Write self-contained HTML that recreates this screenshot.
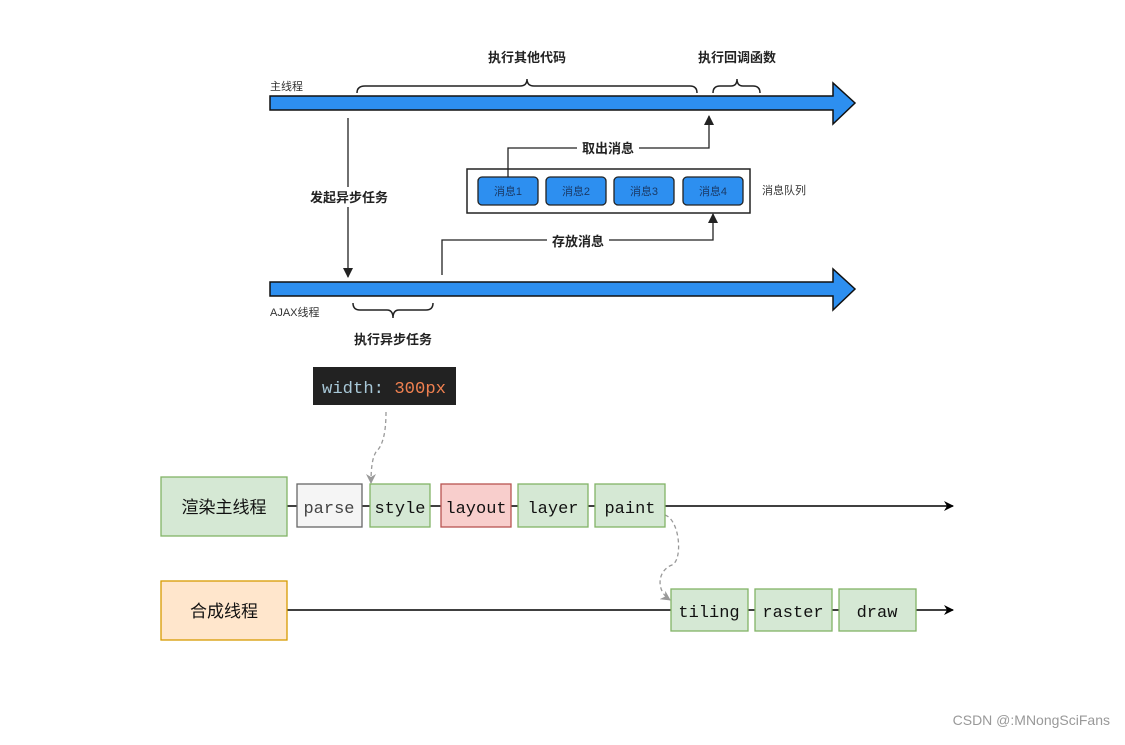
<!DOCTYPE html>
<html><head><meta charset="utf-8"><style>
body{margin:0;background:#fff}
svg text{font-family:"Liberation Sans","Noto Sans CJK SC",sans-serif}
svg text.m, svg .m text{font-family:"Liberation Mono","DejaVu Sans Mono",monospace}
</style></head><body>
<svg width="1125" height="740" viewBox="0 0 1125 740" xmlns="http://www.w3.org/2000/svg">
<defs>
<marker id="a" markerWidth="10" markerHeight="10" refX="9" refY="5" orient="auto" markerUnits="userSpaceOnUse"><path d="M0,0 L10,5 L0,10 L3,5z" fill="#000"/></marker>
<marker id="g" markerWidth="10" markerHeight="10" refX="9" refY="5" orient="auto" markerUnits="userSpaceOnUse"><path d="M0,0 L10,5 L0,10 L3,5z" fill="#999"/></marker>
<marker id="t" markerWidth="10" markerHeight="12" refX="9" refY="5" orient="auto" markerUnits="userSpaceOnUse"><path d="M0,0 L10,5 L0,10z" fill="#222"/></marker>
</defs>
<path d="M270,96 L833,96 L833,83 L855,103 L833,124 L833,110 L270,110Z" fill="#2d8ff0" stroke="#111" stroke-width="1.5"/>
<path d="M270,282 L833,282 L833,269 L855,289 L833,310 L833,296 L270,296Z" fill="#2d8ff0" stroke="#111" stroke-width="1.5"/>
<text x="270" y="90" font-size="11" fill="#333">主线程</text>
<text x="270" y="316" font-size="11" fill="#333">AJAX线程</text>
<path d="M357,93 Q357,86 365,86 L520,86 Q527,86 527,79 Q527,86 534,86 L690,86 Q697,86 697,93" fill="none" stroke="#222" stroke-width="1.5"/>
<path d="M713,93 Q713,86 720,86 L731,86 Q737,86 737,79 Q737,86 743,86 L753,86 Q760,86 760,93" fill="none" stroke="#222" stroke-width="1.5"/>
<path d="M353,303 Q353,310 360,310 L387,310 Q393,310 393,318 Q393,310 399,310 L426,310 Q433,310 433,303" fill="none" stroke="#222" stroke-width="1.5"/>
<text x="527" y="62" font-size="13" font-weight="bold" text-anchor="middle" fill="#222">执行其他代码</text>
<text x="737" y="62" font-size="13" font-weight="bold" text-anchor="middle" fill="#222">执行回调函数</text>
<text x="393" y="344" font-size="13" font-weight="bold" text-anchor="middle" fill="#222">执行异步任务</text>
<line x1="348" y1="118" x2="348" y2="277" stroke="#222" stroke-width="1.3" marker-end="url(#t)"/>
<rect x="303" y="187" width="90" height="20" fill="#fff"/>
<text x="349" y="202" font-size="13" font-weight="bold" text-anchor="middle" fill="#222">发起异步任务</text>
<rect x="467" y="169" width="283" height="44" fill="#fff" stroke="#222" stroke-width="1.5"/>
<g fill="#2d8ff0" stroke="#222" stroke-width="1.3">
<rect x="478" y="177" width="60" height="28" rx="4"/><rect x="546" y="177" width="60" height="28" rx="4"/><rect x="614" y="177" width="60" height="28" rx="4"/><rect x="683" y="177" width="60" height="28" rx="4"/></g>
<g font-size="11" fill="#1a3a66" text-anchor="middle"><text x="508" y="195">消息1</text><text x="576" y="195">消息2</text><text x="644" y="195">消息3</text><text x="713" y="195">消息4</text></g>
<text x="762" y="194" font-size="11" fill="#333">消息队列</text>
<path d="M508,177 L508,148 L709,148 L709,116" fill="none" stroke="#222" stroke-width="1.3" marker-end="url(#t)"/>
<path d="M442,275 L442,240 L713,240 L713,214" fill="none" stroke="#222" stroke-width="1.3" marker-end="url(#t)"/>
<rect x="577" y="139" width="62" height="18" fill="#fff"/>
<text x="608" y="153" font-size="13" font-weight="bold" text-anchor="middle" fill="#222">取出消息</text>
<rect x="547" y="232" width="62" height="18" fill="#fff"/>
<text x="578" y="246" font-size="13" font-weight="bold" text-anchor="middle" fill="#222">存放消息</text>
<rect x="313" y="367" width="143" height="38" fill="#222"/>
<text x="322" y="393" font-size="17" class="m" fill="#a8c8d8" textLength="124" lengthAdjust="spacingAndGlyphs">width: <tspan fill="#f08050">300px</tspan></text>
<path d="M386,412 C386,440 380,448 376,452 C372,458 371,470 371,483" fill="none" stroke="#999" stroke-width="1.3" stroke-dasharray="4,3" marker-end="url(#g)"/>
<path d="M665,515 C680,520 683,560 672,565 C658,570 655,590 670,600" fill="none" stroke="#999" stroke-width="1.3" stroke-dasharray="4,3" marker-end="url(#g)"/>
<line x1="287" y1="506" x2="953" y2="506" stroke="#000" stroke-width="1.5" marker-end="url(#a)"/>
<line x1="287" y1="610" x2="953" y2="610" stroke="#000" stroke-width="1.5" marker-end="url(#a)"/>
<rect x="161" y="477" width="126" height="59" fill="#d5e8d4" stroke="#82b366" stroke-width="1.3"/>
<text x="224" y="513" font-size="17" text-anchor="middle" fill="#111">渲染主线程</text>
<rect x="161" y="581" width="126" height="59" fill="#ffe6cc" stroke="#d79b00" stroke-width="1.3"/>
<text x="224" y="617" font-size="17" text-anchor="middle" fill="#111">合成线程</text>
<g stroke-width="1.3">
<rect x="297" y="484" width="65" height="43" fill="#f5f5f5" stroke="#666"/>
<rect x="370" y="484" width="60" height="43" fill="#d5e8d4" stroke="#82b366"/>
<rect x="441" y="484" width="70" height="43" fill="#f8cecc" stroke="#b85450"/>
<rect x="518" y="484" width="70" height="43" fill="#d5e8d4" stroke="#82b366"/>
<rect x="595" y="484" width="70" height="43" fill="#d5e8d4" stroke="#82b366"/>
<rect x="671" y="589" width="77" height="42" fill="#d5e8d4" stroke="#82b366"/>
<rect x="755" y="589" width="77" height="42" fill="#d5e8d4" stroke="#82b366"/>
<rect x="839" y="589" width="77" height="42" fill="#d5e8d4" stroke="#82b366"/>
</g>
<g class="m" font-size="17" text-anchor="middle" fill="#111">
<text x="329" y="513" fill="#444">parse</text><text x="400" y="513">style</text><text x="476" y="513">layout</text><text x="553" y="513">layer</text><text x="630" y="513">paint</text>
<text x="709" y="617">tiling</text><text x="793" y="617">raster</text><text x="877" y="617">draw</text></g>
<text x="1110" y="725" font-size="14" text-anchor="end" fill="#999">CSDN @:MNongSciFans</text>
</svg>
</body></html>
